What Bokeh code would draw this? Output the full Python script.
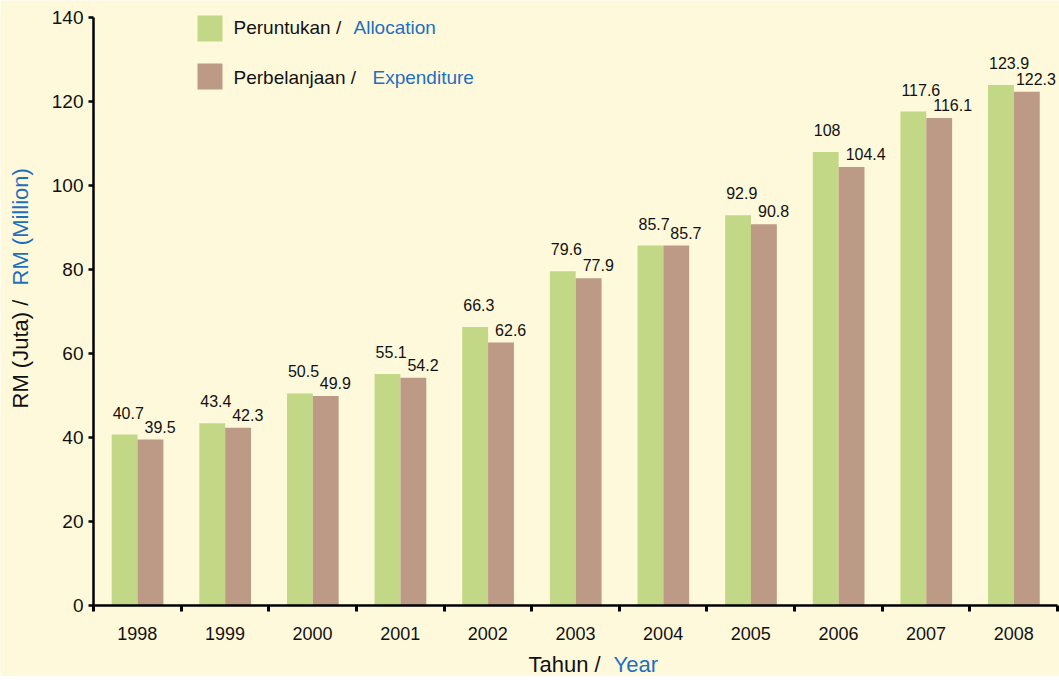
import math
from bokeh.plotting import figure
from bokeh.models import (ColumnDataSource, FixedTicker, Label, BoxAnnotation, Range1d)
from bokeh.core.properties import value
from bokeh.embed import file_html
from bokeh.resources import INLINE

years = ["1998", "1999", "2000", "2001", "2002", "2003", "2004", "2005", "2006", "2007", "2008"]
allocation = [40.7, 43.4, 50.5, 55.1, 66.3, 79.6, 85.7, 92.9, 108, 117.6, 123.9]
expenditure = [39.5, 42.3, 49.9, 54.2, 62.6, 77.9, 85.7, 90.8, 104.4, 116.1, 122.3]
alloc_labels = ["40.7", "43.4", "50.5", "55.1", "66.3", "79.6", "85.7", "92.9", "108", "117.6", "123.9"]
exp_labels = ["39.5", "42.3", "49.9", "54.2", "62.6", "77.9", "85.7", "90.8", "104.4", "116.1", "122.3"]
y_ticks = [0, 20, 40, 60, 80, 100, 120, 140]

BG = "#FFF9DB"
GREEN = "#C2D886"
BROWN = "#BD9A86"
BLUE = "#1E6FBF"
INK = "#111111"
FONT = "Liberation Sans"

W, H = 1059, 676
# plot area in page pixels (the frame covers the whole canvas; axes are fixed inside)
AX_L, AX_R, AX_T, AX_B = 93, 1057, 17, 605
N = len(years)
YMAX = 140
sx = (AX_R - AX_L) / N
sy = (AX_B - AX_T) / YMAX
SHIFT = 7  # correction between requested and drawn text baseline

BAR_W = 0.295
G_OFF = 0.355
B_OFF = 0.65

idx = list(range(N))
exp_off = [7] * N
exp_off[-1] = 2
src = ColumnDataSource(dict(
    xg=[i + G_OFF for i in idx],
    xb=[i + B_OFF for i in idx],
    xgl=[i + G_OFF - BAR_W / 2 for i in idx],
    xbl=[i + B_OFF - BAR_W / 2 for i in idx],
    alloc=allocation, exp=expenditure,
    alab=alloc_labels, elab=exp_labels, eoff=exp_off,
))

x_range = Range1d(-AX_L / sx, N + (W - AX_R) / sx)
y_range = Range1d(-(H - AX_B) / sy, YMAX + AX_T / sy)

p = figure(width=W, height=H, output_backend="svg", toolbar_location=None,
           x_range=x_range, y_range=y_range,
           min_border_left=0, min_border_right=0, min_border_top=0, min_border_bottom=0)
p.background_fill_color = BG
p.border_fill_color = BG
p.outline_line_color = None
p.grid.visible = False

p.vbar(x="xg", top="alloc", width=BAR_W, source=src, fill_color=GREEN, line_color=None)
p.vbar(x="xb", top="exp", width=BAR_W, source=src, fill_color=BROWN, line_color=None)

p.text(x="xgl", y="alloc", text="alab", source=src, x_offset=1, y_offset=-16 - SHIFT + 1,
       text_align="left", text_baseline="alphabetic", text_font=value(FONT),
       text_font_size="16px", text_color=INK)
p.text(x="xbl", y="exp", text="elab", source=src, x_offset="eoff", y_offset=-7 - SHIFT + 1,
       text_align="left", text_baseline="alphabetic", text_font=value(FONT),
       text_font_size="16px", text_color=INK)

# x axis: labels at centres, ticks at category boundaries
xa = p.xaxis[0]
centers = [i + 0.5 for i in idx]
xa.fixed_location = 0
xa.bounds = (0, N)
xa.ticker = FixedTicker(ticks=centers, minor_ticks=list(range(N + 1)))
xa.major_label_overrides = {c: y for c, y in zip(centers, years)}
xa.major_tick_line_color = None
xa.major_tick_out = 0
xa.major_tick_in = 0
xa.minor_tick_out = 6
xa.minor_tick_in = 0
xa.minor_tick_line_width = 3
xa.minor_tick_line_color = "black"
xa.axis_line_width = 2.5
xa.axis_line_color = "black"
xa.major_label_text_font = FONT
xa.major_label_text_font_size = "18px"
xa.major_label_text_color = INK
xa.major_label_standoff = 15

ya = p.yaxis[0]
ya.fixed_location = 0
ya.bounds = (0, YMAX)
ya.ticker = FixedTicker(ticks=y_ticks)
ya.minor_tick_line_color = None
ya.major_tick_out = 5
ya.major_tick_in = 0
ya.major_tick_line_width = 2.5
ya.axis_line_width = 2.5
ya.axis_line_color = "black"
ya.major_label_text_font = FONT
ya.major_label_text_font_size = "19px"
ya.major_label_text_color = INK
ya.major_label_standoff = 5

def lab(px, py, text, color, size, angle=0.0):
    # px, py: page pixels (baseline start) from the top-left corner
    if angle:
        px = px - SHIFT
    else:
        py = py - SHIFT
    p.add_layout(Label(x=px, y=H - py, x_units="screen", y_units="screen", text=text,
                       text_color=color, text_font=FONT, text_font_size=size,
                       text_align="left", text_baseline="alphabetic", angle=angle))

# axis titles
lab(528, 671, "Tahun / ", INK, "22px")
lab(613, 671, "Year", BLUE, "22px")
lab(27, 408, "RM (Juta) / ", INK, "22px", math.pi / 2)
lab(27, 285, "RM (Million)", BLUE, "22px", math.pi / 2)

# legend
def box(top, bottom, color):
    p.add_layout(BoxAnnotation(left=197, right=222, top=H - top, bottom=H - bottom,
                               left_units="screen", right_units="screen",
                               top_units="screen", bottom_units="screen",
                               fill_color=color, fill_alpha=1, line_color=None))

box(15, 41, GREEN)
box(63, 89, BROWN)
lab(233, 34, "Peruntukan / ", INK, "19px")
lab(353, 34, "Allocation", BLUE, "19px")
lab(233, 84, "Perbelanjaan / ", INK, "19px")
lab(372, 84, "Expenditure", BLUE, "19px")

html = file_html(p, INLINE)
html = html.replace("<body>", '<body style="background:%s">' % BG, 1)
open("out.html", "w").write(html)
